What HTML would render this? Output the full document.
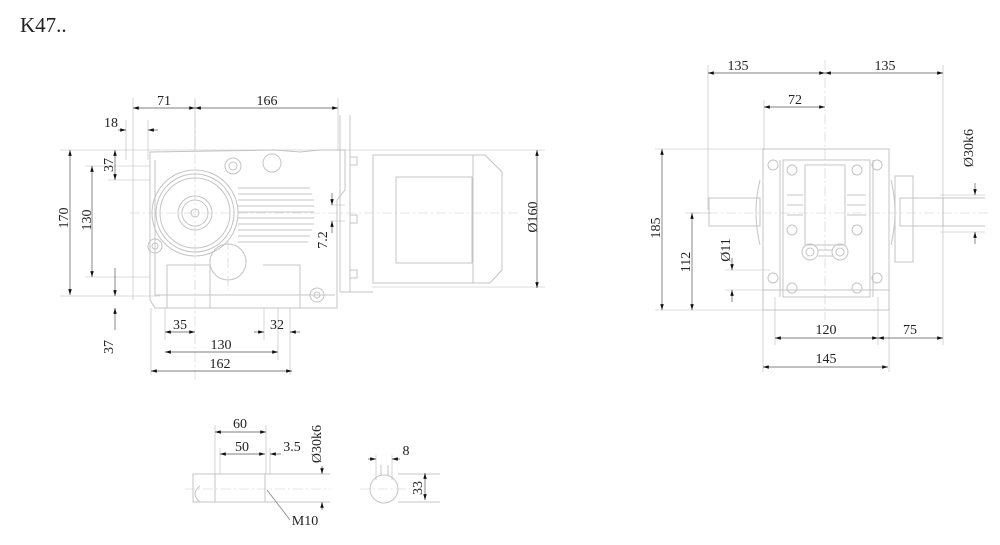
<!DOCTYPE html>
<html><head><meta charset="utf-8"><style>
html,body{margin:0;padding:0;background:#fff;}
svg{display:block;}
text{font-family:"Liberation Serif","Noto Serif CJK SC",serif;font-size:14px;fill:#222;text-anchor:middle;}
.b{stroke:#c4c4c4;stroke-width:1;fill:none;}
.d{stroke:#555;stroke-width:0.7;fill:none;}
.e{stroke:#bbb;stroke-width:0.6;fill:none;}
.c{stroke:#ccc;stroke-width:0.6;fill:none;stroke-dasharray:10 3 2 3;}
</style></head><body>
<svg width="1000" height="545" viewBox="0 0 1000 545" xmlns="http://www.w3.org/2000/svg">
<defs>
<marker id="a" viewBox="0 0 10 6" refX="10" refY="3" markerWidth="10" markerHeight="5" orient="auto-start-reverse"><path d="M0,0L10,3L0,6z" fill="#111"/></marker>
</defs>
<text x="20" y="32" style="font-size:21px;text-anchor:start">K47..</text>

<!-- LEFT VIEW body -->
<g class="b">
<path d="M150,152 L150,300 L155,308 L337,308 L337,200 L345,190 L345,150 L320,150 L300,152 L275,150 L150,152z"/>
<path d="M155,160 L155,295 L335,295"/>
<circle cx="195" cy="213" r="43"/><circle cx="195" cy="213" r="39"/><circle cx="195" cy="213" r="35"/>
<circle cx="195" cy="213" r="17"/><circle cx="195" cy="213" r="13"/><circle cx="195" cy="213" r="4"/>
<circle cx="228" cy="262" r="18"/>
<circle cx="233" cy="166" r="8"/><circle cx="233" cy="166" r="4"/>
<circle cx="272" cy="163" r="9"/>
<circle cx="155" cy="246" r="7"/><circle cx="155" cy="246" r="3"/>
<circle cx="317" cy="295" r="7"/><circle cx="317" cy="295" r="3"/>
<path d="M238,188 H310 M238,194 H312 M238,200 H314 M238,206 H314 M238,212 H314 M238,218 H314 M238,224 H314 M238,230 H312 M238,236 H310 M238,242 H308"/>
<path d="M340,115 V292 M350,115 V292 M340,292 H373"/>
<rect x="373" y="155" width="100" height="128"/>
<path d="M473,155 H485 L502,172 V270 L490,283 H473"/>
<rect x="396" y="177" width="76" height="86"/>
<rect x="350" y="157" width="7" height="8"/><rect x="350" y="215" width="7" height="8"/><rect x="350" y="270" width="7" height="8"/>
<path d="M167,265 H210 V308 M263,265 H300 V308 M167,265 V308"/>
</g>
<g class="c"><path d="M130,213 H520 M195,100 V380 M228,240 V290"/></g>
<g class="e"><path d="M133,98 V300 M195,98 V150 M338,98 V150 M148,120 V160 M126,120 V160 M60,150 H545 M60,296 H160 M85,166 H150 M85,277 H150 M108,180 H150 M165,308 V340 M278,308 V360 M290,308 V375 M151,308 V375 M264,308 V340 M372,287 H545 M330,205 H345 M330,221 H345"/></g>
<g class="d">
<path d="M133,108 H195" marker-start="url(#a)" marker-end="url(#a)"/>
<path d="M195,108 H338" marker-start="url(#a)" marker-end="url(#a)"/>
<path d="M118,130 H126" marker-end="url(#a)"/><path d="M158,130 H148" marker-end="url(#a)"/>
<path d="M70,150 V295" marker-start="url(#a)" marker-end="url(#a)"/>
<path d="M92,166 V277" marker-start="url(#a)" marker-end="url(#a)"/>
<path d="M115,150 V180" marker-start="url(#a)" marker-end="url(#a)"/>
<path d="M115,268 V296" marker-end="url(#a)"/><path d="M115,330 V308" marker-end="url(#a)"/>
<path d="M537,150 V288" marker-start="url(#a)" marker-end="url(#a)"/>
<path d="M332,193 V205" marker-end="url(#a)"/><path d="M332,233 V221" marker-end="url(#a)"/>
<path d="M165,332 H195" marker-start="url(#a)" marker-end="url(#a)"/>
<path d="M254,332 H264" marker-end="url(#a)"/><path d="M300,332 H290" marker-end="url(#a)"/>
<path d="M165,352 H278" marker-start="url(#a)" marker-end="url(#a)"/>
<path d="M151,371 H292" marker-start="url(#a)" marker-end="url(#a)"/>
</g>
<text x="164" y="105">71</text><text x="267" y="105">166</text><text x="111" y="127">18</text>
<text transform="translate(68,218) rotate(-90)">170</text>
<text transform="translate(91,220) rotate(-90)">130</text>
<text transform="translate(113,165) rotate(-90)">37</text>
<text transform="translate(113,347) rotate(-90)">37</text>
<text transform="translate(327,240) rotate(-90)">7.2</text>
<text transform="translate(537,217) rotate(-90)">Ø160</text>
<text x="180" y="329">35</text><text x="277" y="329">32</text>
<text x="221" y="349">130</text><text x="220" y="368">162</text>

<!-- RIGHT VIEW -->
<g class="b">
<rect x="763" y="149" width="126" height="161"/>
<rect x="783" y="160" width="87" height="137"/>
<rect x="805" y="165" width="40" height="80"/>
<path d="M763,290 H889 M780,160 V297 M873,160 V297"/>
<rect x="709" y="198" width="51" height="28"/>
<path d="M760,180 Q752,212 760,245"/><path d="M891,180 Q899,212 891,245"/>
<rect x="895" y="176" width="18" height="86"/>
<rect x="900" y="198" width="43" height="28"/>
<path d="M943,198 H985 M943,226 H985"/>
<circle cx="773" cy="165" r="5"/><circle cx="877" cy="165" r="5"/><circle cx="792" cy="170" r="5"/><circle cx="857" cy="170" r="5"/>
<circle cx="792" cy="230" r="5"/><circle cx="857" cy="230" r="5"/>
<circle cx="773" cy="278" r="5"/><circle cx="877" cy="278" r="5"/><circle cx="792" cy="288" r="5"/><circle cx="857" cy="288" r="5"/>
<circle cx="810" cy="252" r="8"/><circle cx="810" cy="252" r="4"/><circle cx="840" cy="252" r="8"/><circle cx="840" cy="252" r="4"/>
<path d="M787,195 H803 M787,205 H803 M787,215 H803 M847,195 H866 M847,205 H866 M847,215 H866 M818,250 H833 M818,256 H833"/>
</g>
<g class="c"><path d="M690,213 H990 M825,60 V320"/></g>
<g class="e"><path d="M708,65 V210 M943,65 V345 M764,100 V150 M655,149 H763 M655,310 H763 M685,213 H710 M725,270 H770 M725,290 H770 M763,310 V372 M889,310 V372 M775,297 V345 M878,297 V345 M940,195 H985 M940,232 H985"/></g>
<g class="d">
<path d="M708,73 H825" marker-start="url(#a)" marker-end="url(#a)"/>
<path d="M825,73 H943" marker-start="url(#a)" marker-end="url(#a)"/>
<path d="M764,107 H825" marker-start="url(#a)" marker-end="url(#a)"/>
<path d="M662,149 V310" marker-start="url(#a)" marker-end="url(#a)"/>
<path d="M692,213 V310" marker-start="url(#a)" marker-end="url(#a)"/>
<path d="M732,258 V270" marker-end="url(#a)"/><path d="M732,302 V290" marker-end="url(#a)"/>
<path d="M975,183 V195" marker-end="url(#a)"/><path d="M975,244 V232" marker-end="url(#a)"/>
<path d="M775,338 H878" marker-start="url(#a)" marker-end="url(#a)"/>
<path d="M878,338 H943" marker-start="url(#a)" marker-end="url(#a)"/>
<path d="M763,367 H888" marker-start="url(#a)" marker-end="url(#a)"/>
</g>
<text x="738" y="70">135</text><text x="885" y="70">135</text><text x="795" y="104">72</text>
<text transform="translate(660,228) rotate(-90)">185</text>
<text transform="translate(690,262) rotate(-90)">112</text>
<text transform="translate(730,250) rotate(-90)">Ø11</text>
<text transform="translate(973,148) rotate(-90)">Ø30k6</text>
<text x="826" y="334">120</text><text x="910" y="334">75</text><text x="826" y="363">145</text>

<!-- SHAFT -->
<g class="b">
<rect x="193" y="474" width="22" height="28"/>
<path d="M215,474 H330 M215,502 H330 M265,474 V502 M200,486 Q190,494 200,502"/>
<circle cx="384" cy="489" r="14"/>
<path d="M381,475 V465 M388,475 V465 M398,474 H440 M398,502 H440"/>
</g>
<g class="c"><path d="M185,489 H330 M360,489 H410"/></g>
<g class="e"><path d="M215,425 V474 M266,425 V474 M220,448 V474 M270,448 V474 M376,455 V480 M392,455 V480"/></g>
<g class="d">
<path d="M215,432 H266" marker-start="url(#a)" marker-end="url(#a)"/>
<path d="M220,454 H265" marker-start="url(#a)" marker-end="url(#a)"/>
<path d="M281,454 H270" marker-end="url(#a)"/>
<path d="M322,466 V474" marker-end="url(#a)"/><path d="M322,510 V502" marker-end="url(#a)"/>
<path d="M368,459 H376" marker-end="url(#a)"/><path d="M400,459 H392" marker-end="url(#a)"/>
<path d="M425,473 V500" marker-start="url(#a)" marker-end="url(#a)"/>
<path d="M267,490 L290,520" style="stroke:#777"/>
</g>
<text x="240" y="428">60</text><text x="242" y="451">50</text><text x="292" y="451">3.5</text>
<text transform="translate(321,444) rotate(-90)">Ø30k6</text>
<text x="406" y="455">8</text>
<text transform="translate(422,488) rotate(-90)">33</text>
<text x="305" y="525">M10</text>
</svg>
</body></html>
